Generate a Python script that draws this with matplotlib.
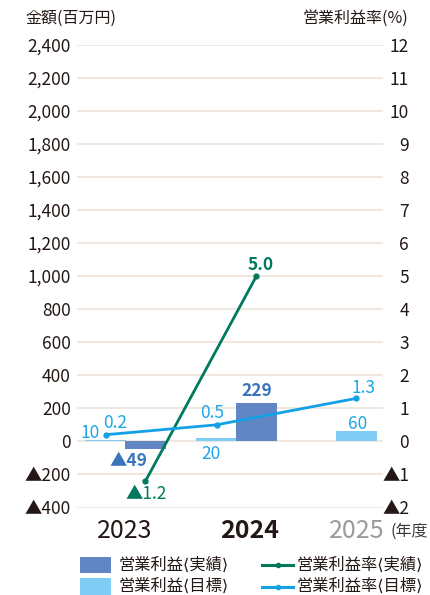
import matplotlib
matplotlib.use("Agg")
import matplotlib.pyplot as plt
from matplotlib.patches import Rectangle
from matplotlib.lines import Line2D

plt.rcParams["font.family"] = ["Noto Sans CJK JP", "DejaVu Sans"]

# ---- data ----
years = ["2023", "2024", "2025"]
profit_actual = [-49, 229, None]      # 営業利益〈実績〉 (百万円)
profit_target = [10, 20, 60]          # 営業利益〈目標〉 (百万円)
margin_actual = [-1.2, 5.0, None]     # 営業利益率〈実績〉 (%)
margin_target = [0.2, 0.5, 1.3]       # 営業利益率〈目標〉 (%)
left_ticks = [-400, -200, 0, 200, 400, 600, 800, 1000, 1200,
              1400, 1600, 1800, 2000, 2200, 2400]
right_ticks = [-2, -1, 0, 1, 2, 3, 4, 5, 6, 7, 8, 9, 10, 11, 12]
legend_labels = ["営業利益⟨実績⟩", "営業利益⟨目標⟩",
                 "営業利益率⟨実績⟩", "営業利益率⟨目標⟩"]

# ---- style ----
C_ACT_BAR = "#6285c4"
C_TGT_BAR = "#7fcdf4"
C_ACT_LINE = "#00795c"
C_TGT_LINE = "#12a0e6"
C_LBL_ACT = "#3a74bc"
C_LBL_TGT = "#1ba6e4"
C_TEXT = "#231815"
C_GRID = "#efe5db"

W, H = 430, 595
PX = 0.72  # points per pixel at 100 dpi


def fmt(v):
    s = f"{abs(v):,}"
    return "▲" + s if v < 0 else s


fig = plt.figure(figsize=(W / 100, H / 100), dpi=100)
ax = fig.add_axes([77 / W, (H - 507.5) / H, (383 - 77) / W, (507.5 - 44.5) / H])
ax2 = ax.twinx()

ax.set_xlim(-0.437, 2.32)
ax.set_ylim(-400, 2400)
ax2.set_ylim(-2, 12)

# bar slots: target on the left, actual on the right; a lone target sits on its own
HALF = 0.18
BAR_W = 0.37
x_act, v_act, x_tgt = [], [], []
for i, (a, t) in enumerate(zip(profit_actual, profit_target)):
    if a is not None:
        x_act.append(i + HALF)
        v_act.append(a)
        x_tgt.append(i - HALF)
    else:
        x_tgt.append(i + 0.08)

ax.set_axisbelow(True)
ax.set_yticks(left_ticks)
ax.set_yticklabels([fmt(v) for v in left_ticks])
ax.yaxis.grid(True, color=C_GRID, lw=1.3)
ax.tick_params(axis="y", length=0, pad=4.5, labelsize=12.5, labelcolor=C_TEXT)
ax.tick_params(axis="x", bottom=False, labelbottom=False)

ax2.set_yticks(right_ticks)
ax2.set_yticklabels([fmt(v) for v in right_ticks])
ax2.tick_params(axis="y", length=0, pad=26 * PX, labelsize=12.5, labelcolor=C_TEXT)
for lbl in ax2.get_yticklabels():
    lbl.set_horizontalalignment("right")

for a_ in (ax, ax2):
    for sp in a_.spines.values():
        sp.set_visible(False)

ax.bar(x_tgt, profit_target, width=BAR_W, color=C_TGT_BAR, zorder=2)
ax.bar(x_act, v_act, width=BAR_W, color=C_ACT_BAR, zorder=2)

m_act = [m for m in margin_actual if m is not None]
ax2.plot(x_act, m_act, color=C_ACT_LINE, lw=2, marker="o", ms=3.5, zorder=3)
ax2.plot(x_tgt, margin_target, color=C_TGT_LINE, lw=2, marker="o", ms=3.5, zorder=3)


def label(axis, x, y, text, dx, dy, color, ha="center", weight="normal", size=12.5):
    axis.annotate(text, (x, y), xytext=(dx * PX, dy * PX), textcoords="offset points",
                  ha=ha, va="baseline", color=color, fontsize=size, fontweight=weight,
                  zorder=5)


# bar value labels
label(ax, x_act[1], v_act[1], fmt(v_act[1]), 0.5, 7, C_LBL_ACT, weight="bold")
label(ax, x_act[0], v_act[0], fmt(v_act[0]), -17, -17, C_LBL_ACT, weight="bold")
label(ax, x_tgt[0], profit_target[0], fmt(profit_target[0]), -5.5, 2, C_LBL_TGT, ha="right")
label(ax, x_tgt[1], profit_target[1], fmt(profit_target[1]), -5.5, -20.5, C_LBL_TGT)
label(ax, x_tgt[2], profit_target[2], fmt(profit_target[2]), 1, 2, C_LBL_TGT)

# margin labels
label(ax2, x_tgt[0], margin_target[0], f"{margin_target[0]:.1f}", -2.5, 6.5, C_LBL_TGT, ha="left")
label(ax2, x_tgt[1], margin_target[1], f"{margin_target[1]:.1f}", -4.5, 6.5, C_LBL_TGT)
label(ax2, x_tgt[2], margin_target[2], f"{margin_target[2]:.1f}", 7.5, 5, C_LBL_TGT)
label(ax2, x_act[1], m_act[1], f"{m_act[1]:.1f}", 4, 6, C_ACT_LINE, weight="bold")
label(ax2, x_act[0], m_act[0], "▲" + f"{abs(m_act[0]):.1f}", 0.5, -17.5, C_ACT_LINE)


def ftext(xp, yp, s, **kw):
    fig.text(xp / W, 1 - yp / H, s, **kw)


# axis titles
ftext(25, 18, "金額(百万円)", ha="left", va="center", fontsize=11.5, color=C_TEXT)
ftext(408, 18, "営業利益率(%)", ha="right", va="center", fontsize=11.5, color=C_TEXT)

# year labels
year_style = [(125, "normal", C_TEXT), (250, "bold", C_TEXT), (357, "normal", "#9b9b9b")]
for yr, (xp, wt, col) in zip(years, year_style):
    ftext(xp, 538, yr, ha="center", va="baseline", fontsize=18, fontweight=wt, color=col)
ftext(390, 536, "(年度", ha="left", va="baseline", fontsize=11.5, color="#3a3a3a")

# legend
LEG_FS = 11.7
for i, (lab, col) in enumerate(zip(legend_labels[:2], [C_ACT_BAR, C_TGT_BAR])):
    yc = 565 + i * 21.5
    fig.add_artist(Rectangle((80 / W, 1 - (yc + 8.3) / H), 31 / W, 16.6 / H,
                             transform=fig.transFigure, color=col, lw=0))
    ftext(118, yc, lab, ha="left", va="center", fontsize=LEG_FS, color=C_TEXT)
for i, (lab, col) in enumerate(zip(legend_labels[2:], [C_ACT_LINE, C_TGT_LINE])):
    yc = 565 + i * 21.5
    fig.add_artist(Line2D([262 / W, 293 / W], [1 - yc / H] * 2, transform=fig.transFigure,
                          color=col, lw=2.2))
    fig.add_artist(Line2D([277.5 / W], [1 - yc / H], transform=fig.transFigure,
                          color=col, marker="o", ms=3))
    ftext(297, yc, lab, ha="left", va="center", fontsize=LEG_FS, color=C_TEXT)

fig.savefig("out.png", dpi=100)
